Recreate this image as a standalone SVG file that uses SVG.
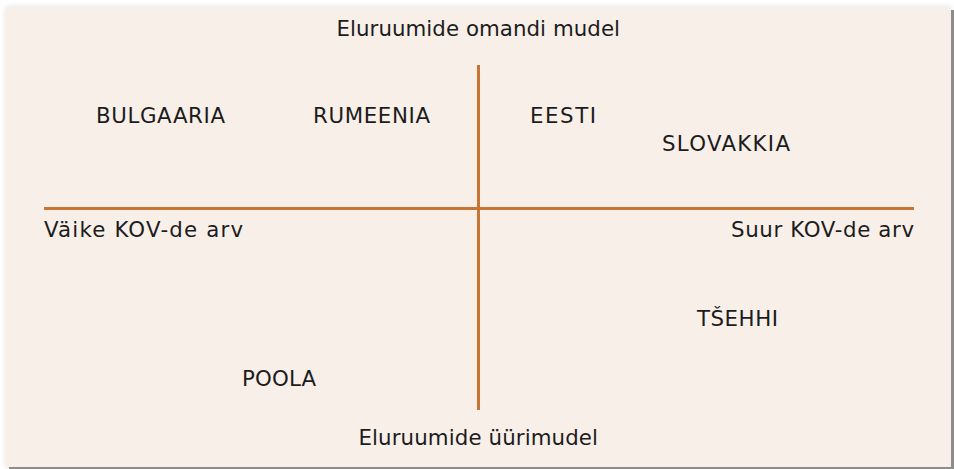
<svg xmlns="http://www.w3.org/2000/svg" width="954" height="469" viewBox="0 0 954 469">
  <style>
    .lbl { font-family: Verdana, "DejaVu Sans", sans-serif; font-size: 21.33px; fill: #1c1c1c; }
    .axis { stroke: #c87533; stroke-width: 3; fill: none; }
  </style>
  <defs>
    <filter id="shadow" x="-5%" y="-5%" width="110%" height="110%">
      <feGaussianBlur in="SourceAlpha" stdDeviation="3" result="blur"/>
      <feFlood flood-color="#000" flood-opacity="0.12"/>
      <feComposite in2="blur" operator="in" result="soft"/>
      <feOffset in="SourceAlpha" dx="3" dy="3" result="off"/>
      <feFlood flood-color="#8c8c8c"/>
      <feComposite in2="off" operator="in" result="hard"/>
      <feMerge>
        <feMergeNode in="soft"/>
        <feMergeNode in="hard"/>
        <feMergeNode in="SourceGraphic"/>
      </feMerge>
    </filter>
  </defs>
  <rect width="954" height="469" fill="#ffffff"/>
  <rect id="background" x="6" y="7" width="945" height="460" fill="#f9efe9" filter="url(#shadow)"/>
  <g id="connectors">
    <line class="axis" x1="478.5" y1="65" x2="478.5" y2="410"/>
    <line class="axis" x1="44" y1="208.5" x2="914" y2="208.5"/>
  </g>
  <g id="top-label"><text class="lbl" x="336.5" y="36" textLength="283.5" lengthAdjust="spacing">Eluruumide omandi mudel</text></g>
  <g id="bottom-label"><text class="lbl" x="358.5" y="445" textLength="239.5" lengthAdjust="spacing">Eluruumide üürimudel</text></g>
  <g id="left-label"><text class="lbl" x="44" y="237" textLength="199" lengthAdjust="spacing">Väike KOV-de arv</text></g>
  <g id="right-label"><text class="lbl" x="731" y="237" textLength="183" lengthAdjust="spacing">Suur KOV-de arv</text></g>
  <g id="bulgaaria"><text class="lbl" x="96" y="123" textLength="129" lengthAdjust="spacing">BULGAARIA</text></g>
  <g id="rumeenia"><text class="lbl" x="313" y="123" textLength="117" lengthAdjust="spacing">RUMEENIA</text></g>
  <g id="eesti"><text class="lbl" x="530" y="123" textLength="66" lengthAdjust="spacing">EESTI</text></g>
  <g id="slovakkia"><text class="lbl" x="662" y="151" textLength="128" lengthAdjust="spacing">SLOVAKKIA</text></g>
  <g id="tsehhi"><text class="lbl" x="697" y="326" textLength="81" lengthAdjust="spacing">TŠEHHI</text></g>
  <g id="poola"><text class="lbl" x="242" y="386" textLength="74" lengthAdjust="spacing">POOLA</text></g>
</svg>
